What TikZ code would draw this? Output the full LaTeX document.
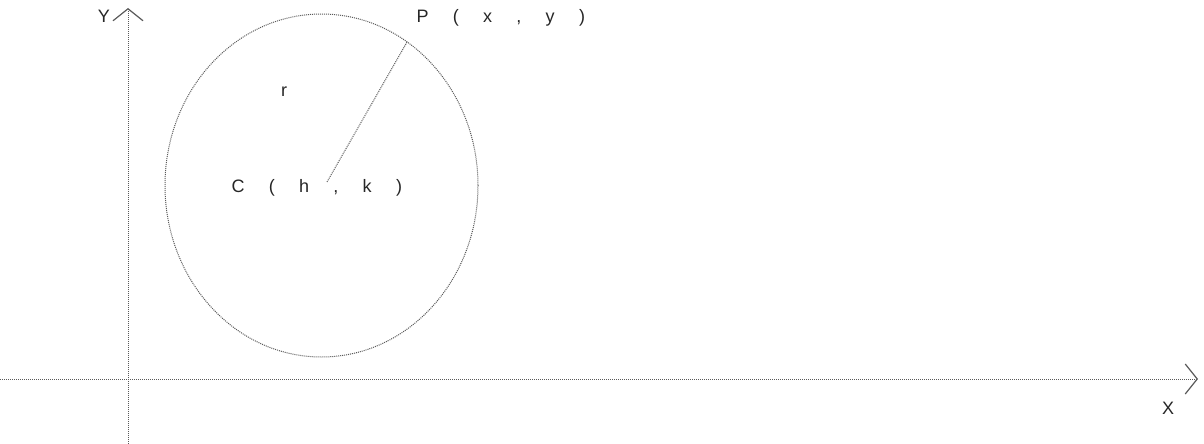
\documentclass[tikz,border=0pt]{standalone}
\usepackage{fontspec}
\setmainfont{Liberation Sans}
\usetikzlibrary{arrows.meta}

\tikzset{
  dotline/.style={black!65,densely dotted,line width=1pt},
  axisarrow/.style={-{Straight Barb[length=12pt,width=30pt,line width=1.2pt]}},
  lbl/.style={text=black!85,font=\fontsize{18}{18}\selectfont\addfontfeature{LetterSpace=135}}
}

\begin{document}
\begin{tikzpicture}[x=1pt,y=-1pt]
  \useasboundingbox (0,0) rectangle (1204,444);
  % axes
  \coordinate (xs) at (0,379);
  \coordinate (xe) at (1198,379);
  \coordinate (ys) at (128,444);
  \coordinate (ye) at (128,8);
  \draw[dotline,axisarrow] (xs) -- (xe);
  \draw[dotline,axisarrow] (ys) -- (ye);
  \node[lbl] (xlab) at (1168,408) {X};
  \node[lbl] (ylab) at (104,16) {Y};
  % circle and radius
  \coordinate (C) at (327,182);
  \coordinate (P) at (407,42);
  \draw[dotline] (321.5,185.5) ellipse [x radius=156.5,y radius=171.5];
  \draw[dotline] (C) -- (P);
  \node[lbl] (rlab) at (284,92) {r};
  \node[lbl,anchor=west] (plab) at (413,18) {P(x,y)};
  \node[lbl,anchor=west] (clab) at (228,188) {C(h,k)};
\end{tikzpicture}
\end{document}
